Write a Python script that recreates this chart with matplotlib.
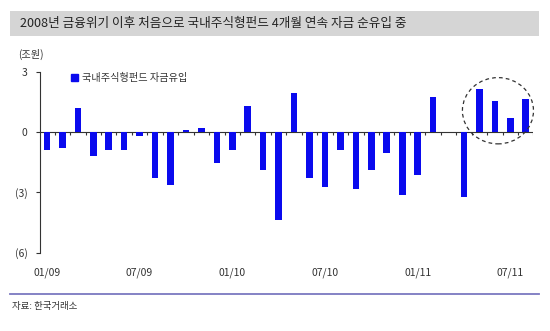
import numpy as np
import matplotlib.pyplot as plt
from matplotlib.patches import Ellipse, Rectangle
from matplotlib.lines import Line2D

plt.rcParams['font.family'] = ['Noto Sans CJK KR', 'DejaVu Sans']

# 월별 국내주식형펀드 자금유입 (조원), 2009.01 ~ 2011.08
months = ['01/09', '02/09', '03/09', '04/09', '05/09', '06/09', '07/09', '08/09',
          '09/09', '10/09', '11/09', '12/09', '01/10', '02/10', '03/10', '04/10',
          '05/10', '06/10', '07/10', '08/10', '09/10', '10/10', '11/10', '12/10',
          '01/11', '02/11', '03/11', '04/11', '05/11', '06/11', '07/11', '08/11']
flows = [-0.89, -0.77, 1.19, -1.19, -0.90, -0.90, -0.18, -2.26,
         -2.65, 0.12, 0.23, -1.52, -0.90, 1.31, -1.88, -4.37,
         1.93, -2.26, -2.71, -0.90, -2.83, -1.88, -1.02, -3.15,
         -2.11, 1.76, 0.0, -3.22, 2.14, 1.54, 0.69, 1.64]
label_months = ['01/09', '07/09', '01/10', '07/10', '01/11', '07/11']
yticks = [3, 0, -3, -6]
ytick_labels = ['3', '0', '(3)', '(6)']

x = np.arange(1, len(flows) + 1)
blue = '#0A0AEE'
dark = '#333333'

fig = plt.figure(figsize=(5.5, 3.31), dpi=100)
W, H = 550, 331

# 제목 배경
fig.patches.append(Rectangle((10 / W, 1 - 36 / H), 529 / W, 25 / H,
                             transform=fig.transFigure, facecolor='#D5D5D5',
                             edgecolor='none', zorder=0))
fig.text(20 / W, 1 - 23.5 / H, '2008년 금융위기 이후 처음으로 국내주식형펀드 4개월 연속 자금 순유입 중',
         fontsize=9.1, va='center', ha='left', color='#222222')

ax = fig.add_axes([40 / W, 1 - 252.7 / H, 493 / W, 180.7 / H])
ax.bar(x, flows, width=0.43, color=blue, zorder=3)
ax.set_xlim(0.55, 32.47)
ax.set_ylim(-6, 3)

for s in ['top', 'right', 'bottom']:
    ax.spines[s].set_visible(False)
ax.spines['left'].set_linewidth(0.8)
ax.spines['left'].set_color(dark)
ax.set_yticks(yticks)
ax.set_yticklabels(ytick_labels)
ax.tick_params(axis='y', length=3, width=0.8, color=dark, labelsize=7.5,
               pad=6, labelcolor=dark)

ax.set_xticks([months.index(m) + 1 for m in label_months])
ax.set_xticklabels(label_months)
ax.tick_params(axis='x', length=0, labelsize=7.5, pad=11, labelcolor=dark)

# 0선과 월 구분 눈금
ax.axhline(0, color=dark, lw=0.8, zorder=2)
bounds = np.append(x - 0.5, x[-1] + 0.5)
ax.vlines(bounds, -0.12, 0, color=dark, lw=0.8, zorder=2)

# 최근 4개월 강조
ax.add_patch(Ellipse((30.2, 1.07), 4.6, 3.3, fill=False, ls=(0, (3, 2.5)),
                     lw=0.9, edgecolor=dark, zorder=4, clip_on=False))

# 범례
leg = ax.legend([Rectangle((0, 0), 1, 1, color=blue)], ['국내주식형펀드 자금유입'],
                loc='upper left', bbox_to_anchor=(0.045, 1.045), frameon=False,
                fontsize=7.3, handlelength=0.65, handleheight=0.65, handletextpad=0.4)
for t in leg.get_texts():
    t.set_color(dark)

fig.text(18 / W, 1 - 54 / H, '(조원)', fontsize=7.3, va='center', ha='left', color=dark)

# 하단 구분선과 출처
fig.lines.append(Line2D([10 / W, 539 / W], [1 - 294.3 / H, 1 - 294.3 / H],
                        transform=fig.transFigure, color='#7B78C0', lw=1.3))
fig.text(12 / W, 1 - 306 / H, '자료: 한국거래소', fontsize=6.8, va='center', ha='left',
         color=dark)

fig.savefig('out.png', dpi=100)
